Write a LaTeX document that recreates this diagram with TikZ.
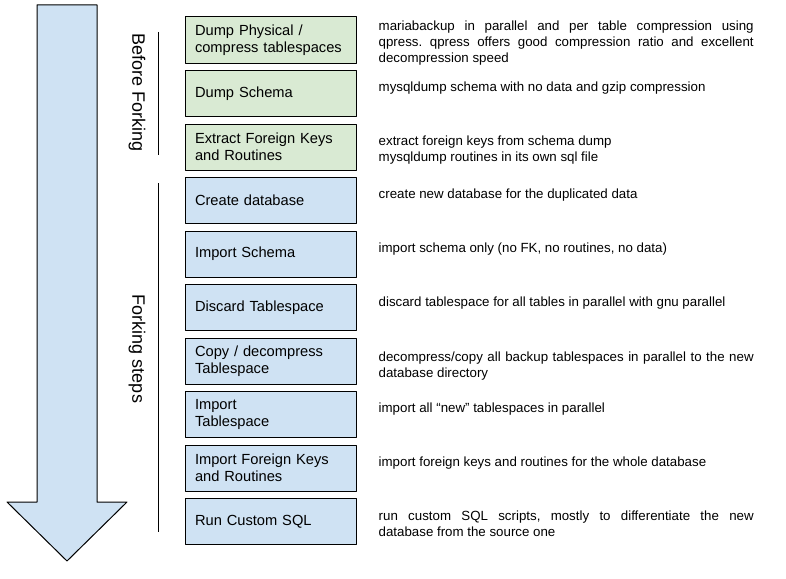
\documentclass[tikz,border=0pt]{standalone}
\usepackage{fontspec}
\setmainfont{Liberation Sans}
\usetikzlibrary{positioning}
\definecolor{prepgreen}{HTML}{D9EAD3}
\definecolor{forkblue}{HTML}{CFE2F3}
\frenchspacing
\begin{document}
\begin{tikzpicture}[x=1pt,y=-1pt,line join=round,node distance=6.5pt,
	stepbox/.style={draw,line width=1pt,minimum width=171pt,minimum height=46pt,text width=151pt,inner xsep=10pt,align=left,font=\fontsize{14.67}{17}\selectfont},
	prep/.style={stepbox,fill=prepgreen},
	fork/.style={stepbox,fill=forkblue},
	note/.style={anchor=base west,text width=375pt,inner sep=0pt,align=justify,font=\fontsize{13.3}{16}\selectfont},
	phase/.style={rotate=-90,font=\fontsize{18}{20}\selectfont}]
	\useasboundingbox (0,0) rectangle (786,578);
	\draw[line width=1pt,fill=forkblue] (37,5)--(97,5)--(97,502)--(127,502)--(67,561)--(7,502)--(37,502)--cycle;
	\node[phase] (before) at (137,92.5) {Before Forking};
	\node[phase] (forking) at (137,349) {Forking steps};
	\draw[line width=1pt] (158,32)--(158,155) (158,183)--(158,532);
	% steps
	\node[prep] (dump) at (270.5,40) {Dump Physical /\\compress tablespaces};
	\node[prep,below=of dump] (schema) {Dump Schema};
	\node[prep,below=of schema] (extract) {Extract Foreign Keys\\and Routines};
	\node[fork,below=of extract] (create) {Create database};
	\node[fork,below=of create] (impschema) {Import Schema};
	\node[fork,below=of impschema] (discard) {Discard Tablespace};
	\node[fork,below=of discard] (copy) {Copy / decompress\\Tablespace};
	\node[fork,below=of copy] (impspace) {Import\\Tablespace};
	\node[fork,below=of impspace] (impkeys) {Import Foreign Keys\\and Routines};
	\node[fork,below=of impkeys] (custom) {Run Custom SQL};
	% notes
	\node[note] (dumpnote) at ([shift={(22,14.5)}]dump.north east) {mariabackup in parallel and per table compression using\linebreak qpress. qpress offers good compression ratio and excellent\linebreak decompression speed};
	\node[note] (schemanote) at ([shift={(22,21)}]schema.north east) {mysqldump schema with no data and gzip compression};
	\node[note] (extractnote) at ([shift={(22,21.5)}]extract.north east) {extract foreign keys from schema dump\\mysqldump routines in its own sql file};
	\node[note] (createnote) at ([shift={(22,21)}]create.north east) {create new database for the duplicated data};
	\node[note] (impschemanote) at ([shift={(22,22)}]impschema.north east) {import schema only (no FK, no routines, no data)};
	\node[note] (discardnote) at ([shift={(22,22)}]discard.north east) {discard tablespace for all tables in parallel with gnu parallel};
	\node[note] (copynote) at ([shift={(22,24)}]copy.north east) {decompress/copy all backup tablespaces in parallel to the new\linebreak database directory};
	\node[note] (impspacenote) at ([shift={(22,21)}]impspace.north east) {import all “new” tablespaces in parallel};
	\node[note] (impkeysnote) at ([shift={(22,21.5)}]impkeys.north east) {import foreign keys and routines for the whole database};
	\node[note] (customnote) at ([shift={(22,22)}]custom.north east) {run custom SQL scripts, mostly to differentiate the new\linebreak database from the source one};
\end{tikzpicture}
\end{document}
